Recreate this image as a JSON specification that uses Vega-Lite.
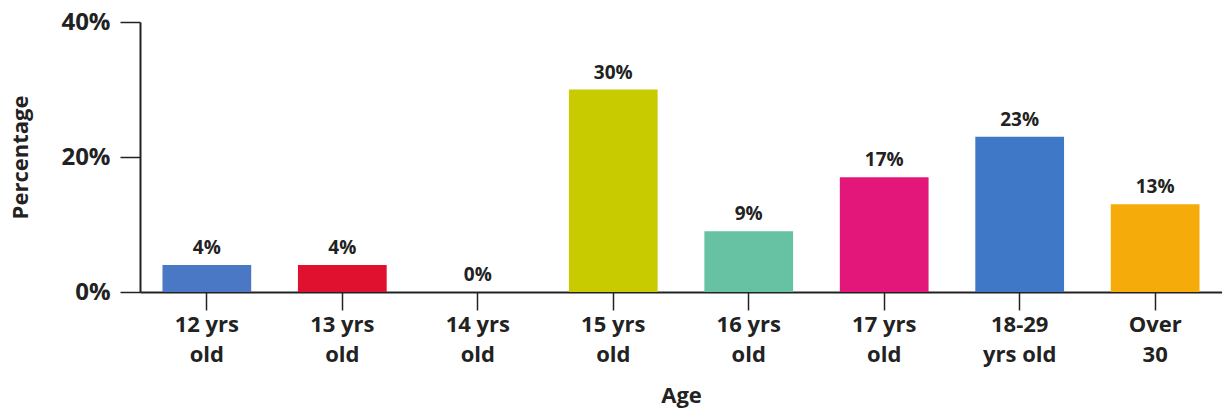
{
  "$schema": "https://vega.github.io/schema/vega-lite/v6.json",
  "autosize": {"type": "none"},
  "padding": {"left": 140, "top": 22, "right": 0, "bottom": 121},
  "width": 1082,
  "height": 270,
  "background": "white",
  "config": {
    "view": {"stroke": null},
    "font": "Open Sans",
    "axis": {
      "domainColor": "#222222",
      "domainWidth": 2,
      "tickColor": "#222222",
      "tickWidth": 1.5,
      "labelColor": "#222222",
      "titleColor": "#222222",
      "labelFont": "Open Sans",
      "titleFont": "Open Sans",
      "labelFontWeight": "bold",
      "titleFontWeight": "bold",
      "labelFontSize": 22,
      "titleFontSize": 22,
      "grid": false
    }
  },
  "data": {
    "values": [
      {"age": "12 yrs old", "pct": 0.04, "color": "#4a78c4"},
      {"age": "13 yrs old", "pct": 0.04, "color": "#e0112f"},
      {"age": "14 yrs old", "pct": 0.0, "color": "#999999"},
      {"age": "15 yrs old", "pct": 0.30, "color": "#c8cb00"},
      {"age": "16 yrs old", "pct": 0.09, "color": "#67c2a4"},
      {"age": "17 yrs old", "pct": 0.17, "color": "#e3167a"},
      {"age": "18-29 yrs old", "pct": 0.23, "color": "#3f78c6"},
      {"age": "Over 30", "pct": 0.13, "color": "#f5ab0a"}
    ]
  },
  "encoding": {
    "x": {
      "field": "age",
      "type": "nominal",
      "sort": null,
      "scale": {"paddingInner": 0.345, "paddingOuter": 0.166},
      "axis": {
        "title": "Age",
        "labelAngle": 0,
        "tickSize": 18,
        "labelPadding": 4,
        "labelLineHeight": 30,
        "labelBaseline": "top",
        "titlePadding": 20,
        "labelExpr": "datum.label == 'Over 30' ? ['Over', '30'] : datum.label == '18-29 yrs old' ? ['18-29', 'yrs old'] : [replace(datum.label, ' old', ''), 'old']"
      }
    },
    "y": {
      "field": "pct",
      "type": "quantitative",
      "scale": {"domain": [0, 0.4]},
      "axis": {
        "title": "Percentage",
        "values": [0, 0.2, 0.4],
        "format": ".0%",
        "tickSize": 20,
        "labelPadding": 10,
        "labelFontSize": 24,
        "titlePadding": 28
      }
    }
  },
  "layer": [
    {
      "mark": {"type": "bar"},
      "encoding": {
        "color": {"field": "color", "type": "nominal", "scale": null}
      }
    },
    {
      "mark": {"type": "text", "baseline": "bottom", "dy": -7, "fontSize": 19, "fontWeight": "bold", "color": "#222222", "font": "Open Sans"},
      "encoding": {
        "text": {"field": "pct", "type": "quantitative", "format": ".0%"}
      }
    }
  ]
}
